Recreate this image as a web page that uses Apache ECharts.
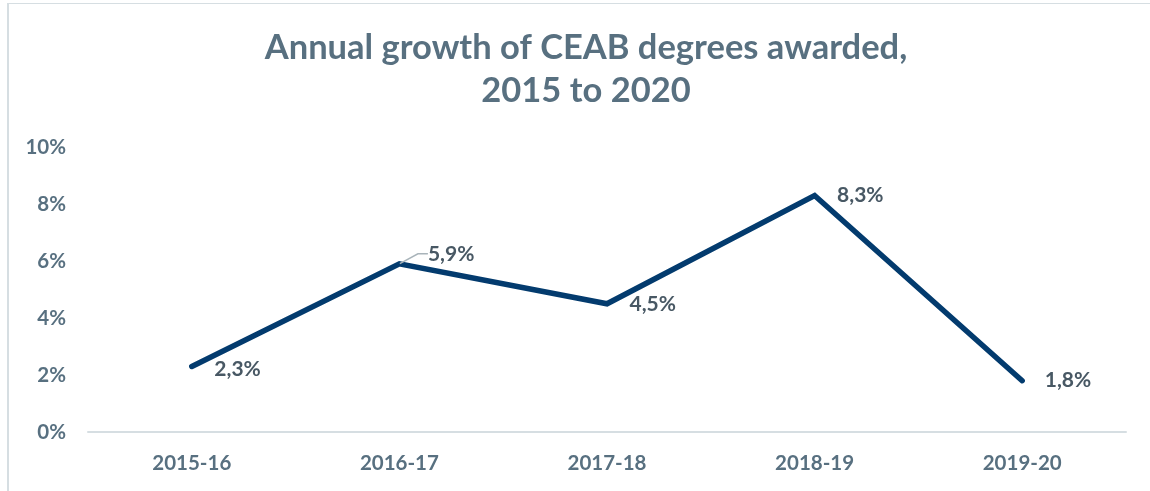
<!DOCTYPE html>
<html>
<head>
<meta charset="utf-8">
<script src="https://cdn.jsdelivr.net/npm/echarts@6/dist/echarts.min.js"></script>
<style>
  html, body { margin: 0; padding: 0; background: #fff; }
  #wrap { position: relative; width: 1150px; height: 491px; }
  #chart { width: 1150px; height: 491px; }
  /* chart frame: only top and left edges are visible in the original */
  #frame {
    position: absolute; left: 7px; top: 3px; right: 0; bottom: 0;
    border-left: 2px solid #d6dee2; border-top: 1px solid #d6dee2;
    pointer-events: none;
  }
</style>
</head>
<body>
<div id="wrap">
  <div id="chart"></div>
  <div id="frame"></div>
</div>
<script>
const years = ['2015-16', '2016-17', '2017-18', '2018-19', '2019-20'];
const growth = [2.3, 5.9, 4.5, 8.3, 1.8];
const yTicks = [0, 2, 4, 6, 8, 10];

const fmt = (v) => String(v).replace('.', ',') + '%';

// only the 2016-17 label was pulled away from its point, with a leader line
const seriesData = growth.map((v, i) =>
  i === 1 ? { value: v, labelLine: { show: true } } : v
);

const chart = echarts.init(document.getElementById('chart'));

chart.setOption({
  backgroundColor: 'transparent',
  title: {
    text: 'Annual growth of CEAB degrees awarded,\n2015 to 2020',
    left: 581,
    top: 21,
    textAlign: 'center',
    textStyle: {
      fontFamily: 'Lato',
      fontWeight: 'bold',
      fontSize: 34.5,
      lineHeight: 43,
      color: '#587080',
    },
  },
  grid: { left: 88, right: 24, top: 147, bottom: 59 },
  xAxis: {
    type: 'category',
    data: years,
    boundaryGap: true,
    axisLine: { lineStyle: { color: '#d6dee2', width: 2 } },
    axisTick: { show: false },
    axisLabel: {
      margin: 21,
      color: '#587080',
      fontFamily: 'Lato',
      fontWeight: 'bold',
      fontSize: 20.5,
    },
  },
  yAxis: {
    type: 'value',
    min: yTicks[0],
    max: yTicks[yTicks.length - 1],
    interval: 2,
    axisLine: { show: false },
    axisTick: { show: false },
    splitLine: { show: false },
    axisLabel: {
      margin: 22,
      color: '#587080',
      fontFamily: 'Lato',
      fontWeight: 'bold',
      fontSize: 20.5,
      formatter: (v) => v + '%',
    },
  },
  series: [
    {
      name: 'Growth',
      type: 'line',
      data: seriesData,
      symbol: 'circle',
      symbolSize: 1,
      itemStyle: { color: 'transparent', borderWidth: 0 },
      lineStyle: { color: '#033b6e', width: 5.5, cap: 'round', join: 'miter' },
      label: {
        show: true,
        position: 'right',
        distance: 22,
        color: '#485864',
        fontFamily: 'Lato',
        fontWeight: 'bold',
        fontSize: 21,
        formatter: (p) => fmt(p.value),
      },
      labelLine: {
        show: false,
        length2: 10,
        lineStyle: { color: '#a9b4ba', width: 1.5 },
      },
      labelLayout: (p) => {
        if (p.dataIndex === 1) return { dy: -10, dx: 6 };
        if (p.dataIndex === 0) return { dy: 3 };
        return {};
      },
    },
  ],
});

window.addEventListener('resize', () => chart.resize());
</script>
</body>
</html>
